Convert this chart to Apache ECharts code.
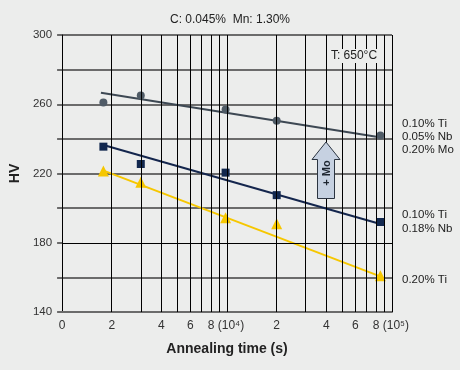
<!DOCTYPE html>
<html><head><meta charset="utf-8">
<script src="https://cdn.jsdelivr.net/npm/echarts@6/dist/echarts.min.js"></script>
<style>html,body{margin:0;padding:0;background:#ecedec;}#c{width:460px;height:370px;}</style>
</head><body><div id="c"></div>
<script>
// ---- data ----
const times = [1780, 3000, 9800, 20000, 85000];
const hvTiNbMo = [261, 265, 257, 250.5, 242];
const hvTiNb = [235.5, 225.5, 220.5, 207.5, 192];
const hvTi = [221.5, 215, 194.5, 191, 161];
const trendTiNbMoT = [1720, 86000], trendTiNbMoV = [266.7, 240.8];
const trendTiNbT = [1780, 85000], trendTiNbV = [236.5, 190.8];
const trendTiT = [1800, 88000], trendTiV = [221.5, 160.0];
const xGridValues = [2000,3000,4000,5000,6000,7000,8000,9000,10000,20000,30000,40000,50000,60000,70000,80000,90000,100000];
const xTickValues = [1000,2000,4000,6000,8000,20000,40000,60000,80000];
const xTickLabels = ['0','2','4','6','8 (10\u2074)','2','4','6','8 (10\u2075)'];
const yTickLabels = [140,180,220,260,300];
const yGridSpecial = 180;
const labelTiNbMo = '0.10% Ti\n0.05% Nb\n0.20% Mo';
const labelTiNb = '0.10% Ti\n0.18% Nb';
const labelTi = '0.20% Ti';

const F = 'Liberation Sans, Arial, Helvetica, sans-serif';
const pair = (a,b)=>a.map((v,i)=>[v,b[i]]);
const chart = echarts.init(document.getElementById('c'), null, {renderer:'canvas'});
const gray='#6b6b6b';
const option = {
  animation:false,
  backgroundColor:'#ecedec',
  textStyle:{fontFamily:F},
  title:{text:'C: 0.045%  Mn: 1.30%', left:'center', top:14, padding:0,
    textStyle:{fontSize:12, fontWeight:'normal', color:'#222', fontFamily:F}},
  grid:{left:60, right:68, top:35, bottom:58},
  xAxis:{type:'log', logBase:10, min:1000, max:100000,
    name:'Annealing time (s)', nameLocation:'middle', nameGap:30,
    nameTextStyle:{fontSize:14, fontWeight:'bold', color:'#222', fontFamily:F},
    axisLine:{show:true, lineStyle:{color:gray, width:2}},
    axisTick:{show:false}, axisLabel:{show:false}, splitLine:{show:false}, minorTick:{show:false}},
  yAxis:{type:'value', min:140, max:300, interval:20,
    name:'HV', nameLocation:'middle', nameGap:39, nameRotate:90,
    nameTextStyle:{fontSize:14, fontWeight:'bold', color:'#222', fontFamily:F},
    axisLine:{show:true, lineStyle:{color:'#000', width:1}},
    axisTick:{show:true, length:5, lineStyle:{color:gray, width:2}},
    axisLabel:{margin:10, fontSize:11.5, color:'#333', fontFamily:F,
      formatter: v => yTickLabels.includes(v) ? String(v) : ''},
    splitLine:{show:true, lineStyle:{color:[gray,gray,'rgba(0,0,0,0)',gray,gray,gray,gray,gray,gray], width:2}}},
  series:[
    {type:'line', z:1, data:[], silent:true,
     markLine:{silent:true, symbol:'none', label:{show:false}, animation:false,
       lineStyle:{color:'#000', width:1, type:'solid'},
       data: xGridValues.map(v=>({xAxis:v})).concat([{yAxis:yGridSpecial}])}},
    {type:'line', z:3, data:pair(trendTiNbMoT,trendTiNbMoV), showSymbol:false, symbol:'none',
     lineStyle:{color:'#3d4853', width:2}},
    {type:'line', z:3, data:pair(trendTiNbT,trendTiNbV), showSymbol:false, symbol:'none',
     lineStyle:{color:'#14264d', width:2}},
    {type:'line', z:3, data:pair(trendTiT,trendTiV), showSymbol:false, symbol:'none',
     lineStyle:{color:'#f6c700', width:2}},
    {type:'scatter', z:4, data:pair(times,hvTiNbMo), symbol:'circle', symbolSize:8,
     itemStyle:{color:'#4f5b66', opacity:1}},
    {type:'scatter', z:4, data:pair(times,hvTiNb), symbol:'rect', symbolSize:8,
     itemStyle:{color:'#12284f', opacity:1}},
    {type:'scatter', z:4, data:pair(times,hvTi), symbol:'triangle', symbolSize:11,
     itemStyle:{color:'#f6c700', opacity:1}}
  ]
};
chart.setOption(option);

const y0 = chart.convertToPixel({yAxisIndex:0}, 140);
const gfx = xTickValues.map((v,i)=>{
  const px = chart.convertToPixel({xAxisIndex:0}, v);
  const long = xTickLabels[i].length > 1;
  return {type:'text', x: long ? px-3.3 : px, y: y0+14, z:10,
    style:{text:xTickLabels[i], fontSize:12, fontFamily:F, fill:'#333',
      align: long ? 'left':'center', verticalAlign:'middle'}};
});
gfx.push(
  {type:'text', x:354, y:56, z:10, style:{text:'T: 650°C', fontSize:12, fontFamily:F, fill:'#222',
    align:'center', verticalAlign:'middle', backgroundColor:'#ecedec', padding:[1,1]}},
  {type:'text', x:402, y:137, z:10, style:{text:labelTiNbMo, fontSize:11.5, lineHeight:13, fontFamily:F, fill:'#222', align:'left', verticalAlign:'middle'}},
  {type:'text', x:402, y:222, z:10, style:{text:labelTiNb, fontSize:11.5, lineHeight:13.5, fontFamily:F, fill:'#222', align:'left', verticalAlign:'middle'}},
  {type:'text', x:402, y:280, z:10, style:{text:labelTi, fontSize:11.5, fontFamily:F, fill:'#222', align:'left', verticalAlign:'middle'}},
  {type:'polygon', z:10, shape:{points:[[326,142],[340,159.5],[334.5,159.5],[334.5,198.5],[317.5,198.5],[317.5,159.5],[312,159.5]]},
    style:{fill:'#c6d1e1', stroke:'#2b3440', lineWidth:1}},
  {type:'text', x:326.5, y:173, z:11, rotation:Math.PI/2, style:{text:'+ Mo', fontSize:11, fontWeight:'bold', fontFamily:F, fill:'#1e2630', align:'center', verticalAlign:'middle'}}
);
chart.setOption({graphic:gfx});
</script></body></html>
